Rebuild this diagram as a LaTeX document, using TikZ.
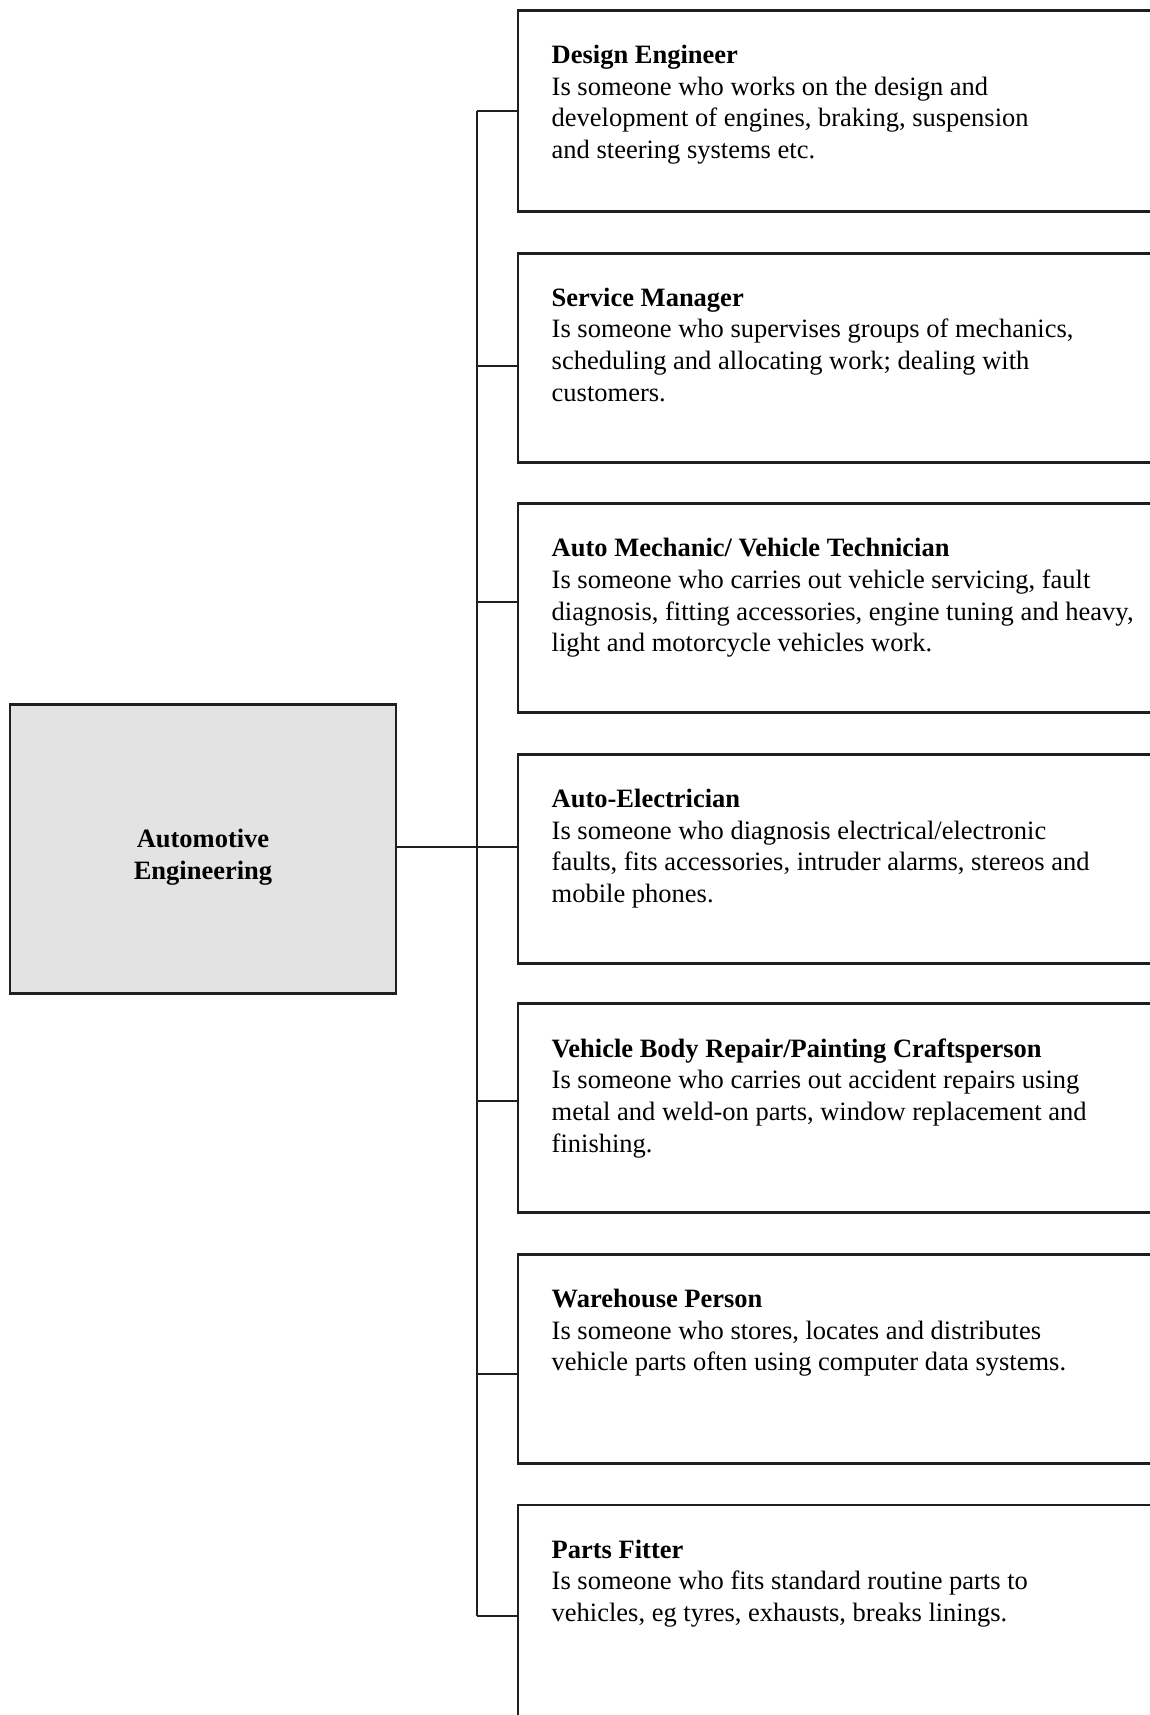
\documentclass[tikz,border=0pt]{standalone}
\usepackage{fontspec}
\setmainfont{Liberation Serif}
\begin{document}
\begin{tikzpicture}[x=1pt,y=-1pt,
  boxline/.style={draw=black!88,line width=2.8pt},
  rolebox/.style={boxline,rectangle,fill=white,anchor=north west,
    minimum width=660pt,minimum height=209pt,inner sep=0pt},
  roletext/.style={anchor=north west,inner sep=0pt,align=left,
    font=\fontsize{26.5}{31.7}\selectfont},
  rootbox/.style={boxline,rectangle,fill=black!11,minimum width=386pt,
    minimum height=289pt,inner sep=0pt},
  roottext/.style={inner sep=0pt,align=center,
    font=\fontsize{26.5}{31.7}\selectfont\bfseries},
  link/.style={draw=black!88,line width=2pt}]
\useasboundingbox (0,0) rectangle (1150,1715);
\clip (0,0) rectangle (1150,1715);
\fill[white] (0,0) rectangle (1150,1715);

% root box and its title
\node[rootbox] (root) at (203,849) {};
\node[roottext] (rootlabel) at (203,857) {Automotive\\Engineering};

% role boxes
\node[rolebox,minimum height=201pt] (d1) at (516.5,8.75) {};
\node[rolebox] (d2) at (516.5,251.7) {};
\node[rolebox] (d3) at (516.5,502.3) {};
\node[rolebox] (d4) at (516.5,752.8) {};
\node[rolebox] (d5) at (516.5,1002.3) {};
\node[rolebox] (d6) at (516.5,1252.9) {};
\node[rolebox,minimum height=260pt] (d7) at (516.5,1503.5) {};

% role descriptions
\node[roletext] (x1) at (551.5,44.75) {\textbf{Design Engineer}\\
Is someone who works on the design and\\
development of engines, braking, suspension\\
and steering systems etc.};
\node[roletext] (x2) at (551.5,287.7) {\textbf{Service Manager}\\
Is someone who supervises groups of mechanics,\\
scheduling and allocating work; dealing with\\
customers.};
\node[roletext] (x3) at (551.5,538.3) {\textbf{Auto Mechanic/ Vehicle Technician}\\
Is someone who carries out vehicle servicing, fault\\
diagnosis, fitting accessories, engine tuning and heavy,\\
light and motorcycle vehicles work.};
\node[roletext] (x4) at (551.5,788.8) {\textbf{Auto-Electrician}\\
Is someone who diagnosis electrical/electronic\\
faults, fits accessories, intruder alarms, stereos and\\
mobile phones.};
\node[roletext] (x5) at (551.5,1038.3) {\textbf{Vehicle Body Repair/Painting Craftsperson}\\
Is someone who carries out accident repairs using\\
metal and weld-on parts, window replacement and\\
finishing.};
\node[roletext] (x6) at (551.5,1288.9) {\textbf{Warehouse Person}\\
Is someone who stores, locates and distributes\\
vehicle parts often using computer data systems.};
\node[roletext] (x7) at (551.5,1539.5) {\textbf{Parts Fitter}\\
Is someone who fits standard routine parts to\\
vehicles, eg tyres, exhausts, breaks linings.};

% taps on the vertical bus
\coordinate (t1) at (476.5,111);
\coordinate (t2) at (476.5,365.5);
\coordinate (t3) at (476.5,602);
\coordinate (t4) at (476.5,847);
\coordinate (t5) at (476.5,1101);
\coordinate (t6) at (476.5,1374);
\coordinate (t7) at (476.5,1616);

% connectors
\draw[link] (t1) -- (t7);
\draw[link] (root.east |- t4) -- (t4 -| d4.west);
\foreach \i in {1,2,3,5,6,7} {
  \draw[link] (t\i) -- (t\i -| d\i.west);
}
\end{tikzpicture}
\end{document}
